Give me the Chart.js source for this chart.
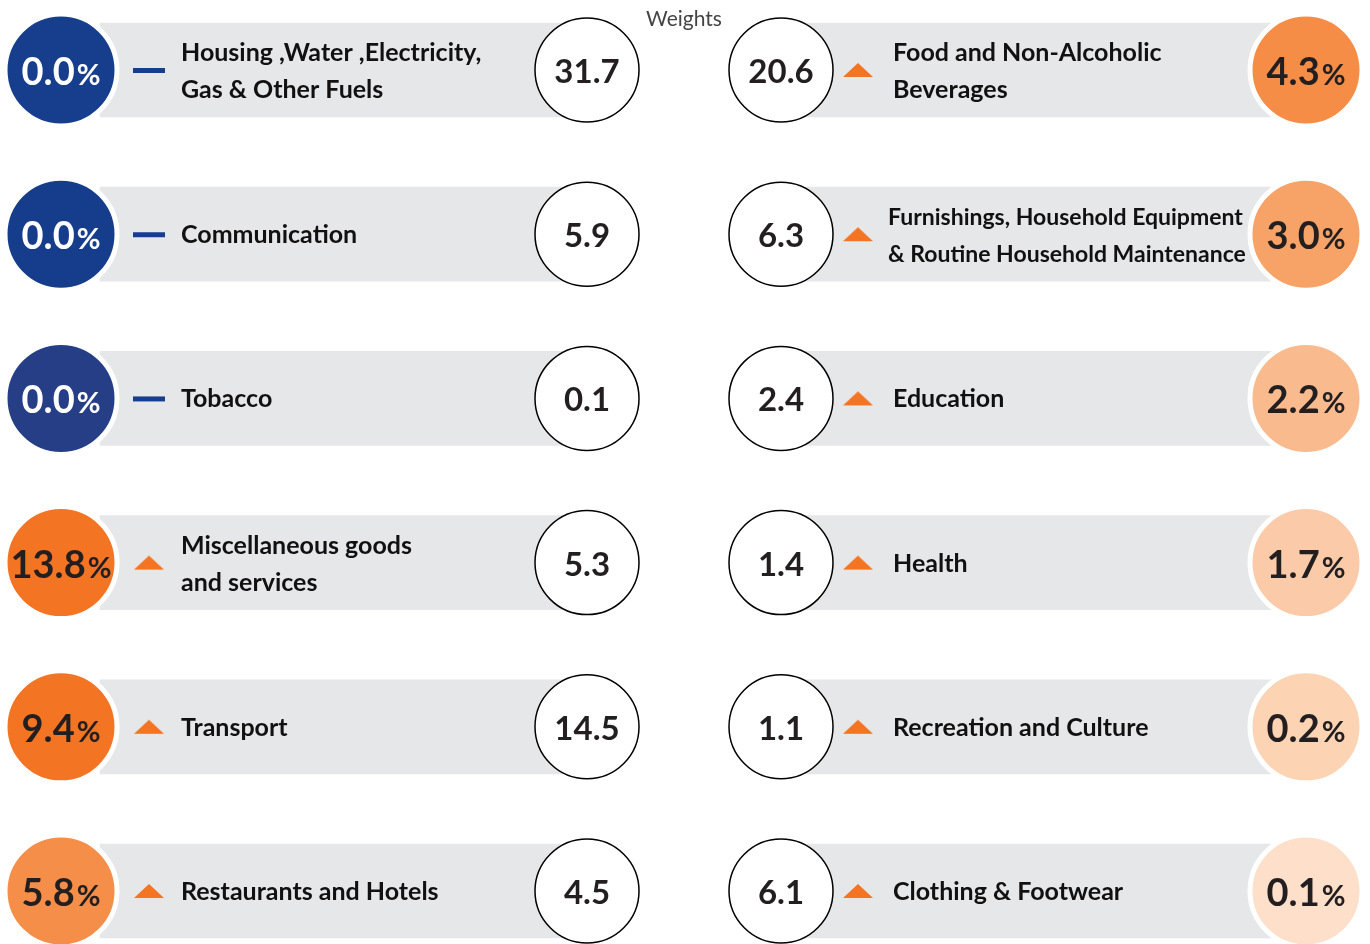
<!DOCTYPE html>
<html><head><meta charset="utf-8">
<script src="https://cdn.jsdelivr.net/npm/chart.js@4.4.0/dist/chart.umd.min.js"></script>
<style>html,body{margin:0;padding:0;background:#fff;overflow:hidden}#wrap{width:1370px;height:944px;position:relative}</style>
</head><body><div id="wrap"><canvas id="c"></canvas></div>
<script>
// ---- data ----
const leftCategories = ["Housing ,Water ,Electricity,\nGas & Other Fuels", "Communication", "Tobacco", "Miscellaneous goods\nand services", "Transport", "Restaurants and Hotels"];
const leftChange = [0.0, 0.0, 0.0, 13.8, 9.4, 5.8];
const leftWeights = [31.7, 5.9, 0.1, 5.3, 14.5, 4.5];
const rightCategories = ["Food and Non-Alcoholic\nBeverages", "Furnishings, Household Equipment\n& Routine Household Maintenance", "Education", "Health", "Recreation and Culture", "Clothing & Footwear"];
const rightChange = [4.3, 3.0, 2.2, 1.7, 0.2, 0.1];
const rightWeights = [20.6, 6.3, 2.4, 1.4, 1.1, 6.1];
const weightsTitle = "Weights";

// ---- styles ----
const leftColors = ["#163e8c", "#153d8b", "#263e86", "#f37423", "#f37423", "#f58e48"];
const rightColors = ["#f68d47", "#f7a267", "#f9bb8e", "#fbcba9", "#fcd3b3", "#fddfca"];
const BLUE = "#163e8c", ORANGE = "#f37423", GREY = "#e6e7e9", INK = "#231f20";
const FONT = "Lato, 'Open Sans', sans-serif";
const LAYOUT = { leftValueX: 61, leftBarStart: 100, leftWeightX: 587, leftIndX: 149, leftTextX: 181,
  rightWeightX: 781, rightIndX: 858, rightTextX: 893, rightBarEnd: 1300, rightValueX: 1306 };

function makeIcon(kind) {
  const c = document.createElement('canvas'); c.width = 34; c.height = 18;
  const g = c.getContext('2d');
  if (kind === 'dash') { g.fillStyle = BLUE; g.fillRect(1, 7, 32, 5); }
  else { g.fillStyle = ORANGE; g.beginPath(); g.moveTo(2, 16); g.lineTo(17, 2); g.lineTo(32, 16); g.closePath(); g.fill(); }
  return c;
}
const dashIcon = makeIcon('dash'), triIcon = makeIcon('tri');
const iconFor = v => v > 0 ? triIcon : dashIcon;
const rows = leftCategories.map((_, i) => i);

const datasets = [
  { type: 'bar', label: 'leftBar', indexAxis: 'y', grouped: false, order: 5, barThickness: 94,
    backgroundColor: GREY, borderWidth: 0,
    data: rows.map(i => ({ y: i, x: [LAYOUT.leftBarStart, LAYOUT.leftWeightX] })) },
  { type: 'bar', label: 'rightBar', indexAxis: 'y', grouped: false, order: 5, barThickness: 94,
    backgroundColor: GREY, borderWidth: 0,
    data: rows.map(i => ({ y: i, x: [LAYOUT.rightWeightX, LAYOUT.rightBarEnd] })) },
  { type: 'scatter', label: 'leftInd', order: 4, pointStyle: leftChange.map(iconFor), pointRadius: 16,
    data: rows.map(i => ({ x: LAYOUT.leftIndX, y: i })) },
  { type: 'scatter', label: 'rightInd', order: 4, pointStyle: rightChange.map(iconFor), pointRadius: 16,
    data: rows.map(i => ({ x: LAYOUT.rightIndX, y: i })) },
  { type: 'scatter', label: 'leftValue', order: 2, pointRadius: 56, borderWidth: 5, borderColor: '#fff',
    backgroundColor: leftColors, data: rows.map(i => ({ x: LAYOUT.leftValueX, y: i })) },
  { type: 'scatter', label: 'rightValue', order: 2, pointRadius: 56, borderWidth: 5, borderColor: '#fff',
    backgroundColor: rightColors, data: rows.map(i => ({ x: LAYOUT.rightValueX, y: i })) },
  { type: 'scatter', label: 'leftWeight', order: 1, pointRadius: 52, borderWidth: 1.5, borderColor: '#000',
    backgroundColor: '#fff', data: rows.map(i => ({ x: LAYOUT.leftWeightX, y: i })) },
  { type: 'scatter', label: 'rightWeight', order: 1, pointRadius: 52, borderWidth: 1.5, borderColor: '#000',
    backgroundColor: '#fff', data: rows.map(i => ({ x: LAYOUT.rightWeightX, y: i })) }
];

function drawPct(ctx, el, value, color) {
  const num = value.toFixed(1), big = `bold 38px ${FONT}`, small = `bold 29px ${FONT}`;
  ctx.font = big; const w1 = ctx.measureText(num).width;
  ctx.font = small; const w2 = ctx.measureText('%').width;
  const x0 = el.x - (w1 + w2 + 2) / 2, base = el.y + 15;
  ctx.fillStyle = color; ctx.textAlign = 'left'; ctx.textBaseline = 'alphabetic';
  ctx.font = big; ctx.fillText(num, x0, base);
  ctx.font = small; ctx.fillText('%', x0 + w1 + 2, base);
}
function drawLabel(ctx, x, y, text, size) {
  const lines = text.split('\n');
  ctx.font = `bold ${size}px ${FONT}`; ctx.fillStyle = '#111'; ctx.textAlign = 'left'; ctx.textBaseline = 'middle';
  if (lines.length === 1) ctx.fillText(lines[0], x, y + 1);
  else { ctx.fillText(lines[0], x, y - 17); ctx.fillText(lines[1], x, y + 20); }
}
const textPlugin = {
  id: 'infoText',
  afterDatasetsDraw(chart) {
    const ctx = chart.ctx, xs = chart.scales.x;
    const meta = name => chart.getDatasetMeta(chart.data.datasets.findIndex(d => d.label === name)).data;
    ctx.save();
    meta('leftValue').forEach((el, i) => drawPct(ctx, el, leftChange[i], leftChange[i] > 0 ? INK : '#fff'));
    meta('rightValue').forEach((el, i) => drawPct(ctx, el, rightChange[i], INK));
    ctx.font = `bold 33px ${FONT}`; ctx.fillStyle = INK; ctx.textAlign = 'center'; ctx.textBaseline = 'alphabetic';
    meta('leftWeight').forEach((el, i) => ctx.fillText(leftWeights[i].toFixed(1), el.x, el.y + 13));
    meta('rightWeight').forEach((el, i) => ctx.fillText(rightWeights[i].toFixed(1), el.x, el.y + 13));
    meta('leftInd').forEach((el, i) => drawLabel(ctx, xs.getPixelForValue(LAYOUT.leftTextX), el.y, leftCategories[i], 25));
    meta('rightInd').forEach((el, i) => drawLabel(ctx, xs.getPixelForValue(LAYOUT.rightTextX) - (i === 1 ? 5 : 0), el.y, rightCategories[i], i === 1 ? 23 : 25));
    ctx.font = `21px ${FONT}`; ctx.fillStyle = '#444'; ctx.textAlign = 'center'; ctx.textBaseline = 'middle';
    ctx.fillText(weightsTitle, xs.getPixelForValue(684), 19);
    ctx.restore();
  }
};

new Chart(document.getElementById('c'), {
  type: 'scatter',
  data: { datasets },
  options: {
    responsive: true, maintainAspectRatio: false, animation: false, events: [],
    layout: { padding: 0, autoPadding: false },
    plugins: { legend: { display: false }, tooltip: { enabled: false } },
    scales: {
      x: { type: 'linear', display: false, offset: false, min: 0, max: 1370 },
      y: { type: 'linear', display: false, offset: false, reverse: true, min: -0.4263, max: 5.3228 }
    }
  },
  plugins: [textPlugin]
});
</script></body></html>
